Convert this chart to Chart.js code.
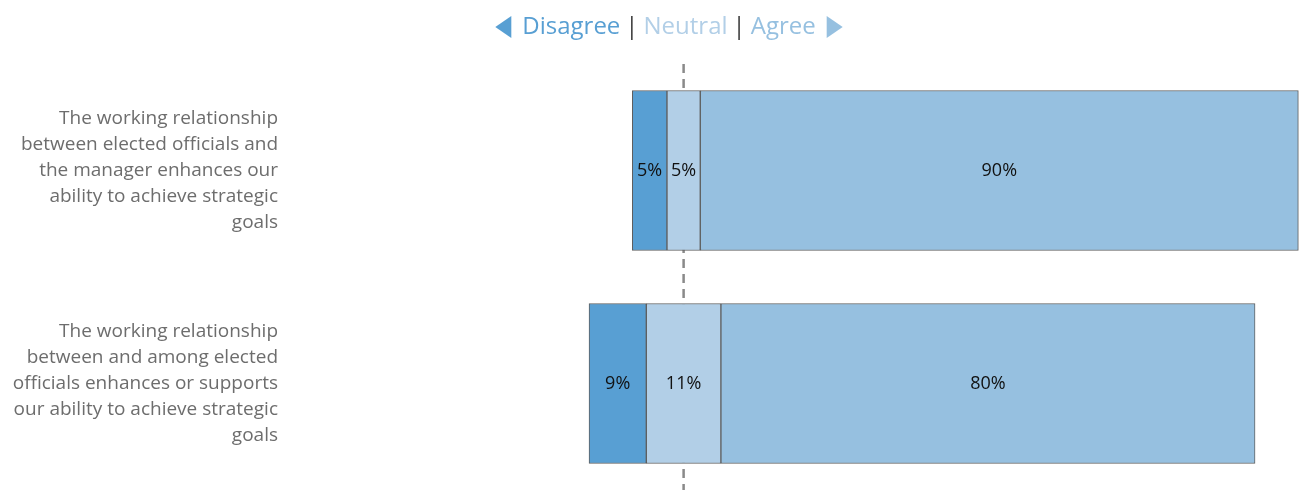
<!DOCTYPE html>
<html>
<head>
<meta charset="utf-8">
<script src="https://cdn.jsdelivr.net/npm/chart.js@4"></script>
<style>
  html, body { margin: 0; padding: 0; background: #fff; }
  #wrap { width: 1300px; height: 490px; }
</style>
</head>
<body>
<div id="wrap"><canvas id="chart"></canvas></div>
<script>
// Data (shares in %, labels show rounded values)
const questions = [
    ['The working relationship', 'between elected officials and', 'the manager enhances our', 'ability to achieve strategic', 'goals'],
    ['The working relationship', 'between and among elected', 'officials enhances or supports', 'our ability to achieve strategic', 'goals']
];
const disagree = [5.2, 8.6];
const neutral = [5.0, 11.2];
const agree = [89.8, 80.2];

const colors = { disagree: '#589fd3', neutral: '#b2cfe7', agree: '#96c0e0' };

// Build floating bars centred on the middle of the neutral segment
const disagreeBars = disagree.map((d, i) => [-neutral[i] / 2 - d, -neutral[i] / 2]);
const neutralBars = neutral.map(n => [-n / 2, n / 2]);
const agreeBars = agree.map((a, i) => [neutral[i] / 2, neutral[i] / 2 + a]);

// Dashed centre line behind bars
const centerLine = {
    id: 'centerLine',
    beforeDatasetsDraw(chart) {
        const ctx = chart.ctx;
        const x = chart.scales.x.getPixelForValue(0);
        ctx.save();
        ctx.strokeStyle = '#8a8a8a';
        ctx.lineWidth = 2.5;
        ctx.setLineDash([9, 6]);
        ctx.beginPath();
        ctx.moveTo(x, chart.chartArea.top);
        ctx.lineTo(x, chart.chartArea.bottom);
        ctx.stroke();
        ctx.restore();
    }
};

// Percent labels in the middle of each segment
const barLabels = {
    id: 'barLabels',
    afterDatasetsDraw(chart) {
        const ctx = chart.ctx;
        ctx.save();
        ctx.font = '18px "Open Sans"';
        ctx.fillStyle = '#111';
        ctx.textAlign = 'center';
        ctx.textBaseline = 'middle';
        const sources = [disagree, neutral, agree];
        chart.data.datasets.forEach((ds, di) => {
            chart.getDatasetMeta(di).data.forEach((bar, i) => {
                const p = bar.getCenterPoint();
                ctx.fillText(Math.round(sources[di][i]) + '%', p.x, p.y);
            });
        });
        ctx.restore();
    }
};

// Header legend: ◀ Disagree | Neutral | Agree ▶
const header = {
    id: 'header',
    afterDraw(chart) {
        const ctx = chart.ctx;
        ctx.save();
        ctx.font = '24px "Open Sans"';
        ctx.textBaseline = 'middle';
        const y = 27;
        const parts = [
            { t: 'Disagree', c: colors.disagree },
            { t: '|', c: '#444' },
            { t: 'Neutral', c: colors.neutral },
            { t: '|', c: '#444' },
            { t: 'Agree', c: colors.agree }
        ];
        const gap = 5, tri = 16, triGap = 11;
        let total = tri * 2 + triGap * 2;
        parts.forEach((p, i) => { p.w = ctx.measureText(p.t).width; total += p.w + (i ? gap : 0); });
        let x = 669 - total / 2;
        // left triangle
        ctx.fillStyle = colors.disagree;
        ctx.beginPath();
        ctx.moveTo(x, y);
        ctx.lineTo(x + tri, y - 11);
        ctx.lineTo(x + tri, y + 11);
        ctx.closePath();
        ctx.fill();
        x += tri + triGap;
        parts.forEach((p, i) => {
            if (i) x += gap;
            ctx.fillStyle = p.c;
            ctx.fillText(p.t, x, y);
            x += p.w;
        });
        x += triGap;
        ctx.fillStyle = colors.agree;
        ctx.beginPath();
        ctx.moveTo(x + tri, y);
        ctx.lineTo(x, y - 11);
        ctx.lineTo(x, y + 11);
        ctx.closePath();
        ctx.fill();
        ctx.restore();
    }
};

const barStyle = { borderColor: '#5e5e5e', borderWidth: 1, borderSkipped: false, barThickness: 160 };

new Chart(document.getElementById('chart'), {
    type: 'bar',
    data: {
        labels: questions,
        datasets: [
            { label: 'Disagree', data: disagreeBars, backgroundColor: colors.disagree, ...barStyle },
            { label: 'Neutral', data: neutralBars, backgroundColor: colors.neutral, ...barStyle },
            { label: 'Agree', data: agreeBars, backgroundColor: colors.agree, ...barStyle }
        ]
    },
    options: {
        indexAxis: 'y',
        responsive: true,
        maintainAspectRatio: false,
        animation: false,
        grouped: false,
        layout: { padding: { top: 64, right: 1, bottom: 0, left: 0 } },
        scales: {
            x: {
                min: -60,
                max: 92.4,
                display: false
            },
            y: {
                grid: { display: false, drawTicks: false },
                border: { display: false },
                ticks: {
                    color: '#6d6d6d',
                    font: { family: 'Open Sans', size: 19, lineHeight: '26px' },
                    padding: 6
                },
                afterFit(scale) {
                    scale.width = 284;
                    scale.paddingTop = 0;
                    scale.paddingBottom = 0;
                }
            }
        },
        plugins: {
            legend: { display: false },
            tooltip: { enabled: false }
        }
    },
    plugins: [centerLine, barLabels, header]
});
</script>
</body>
</html>
